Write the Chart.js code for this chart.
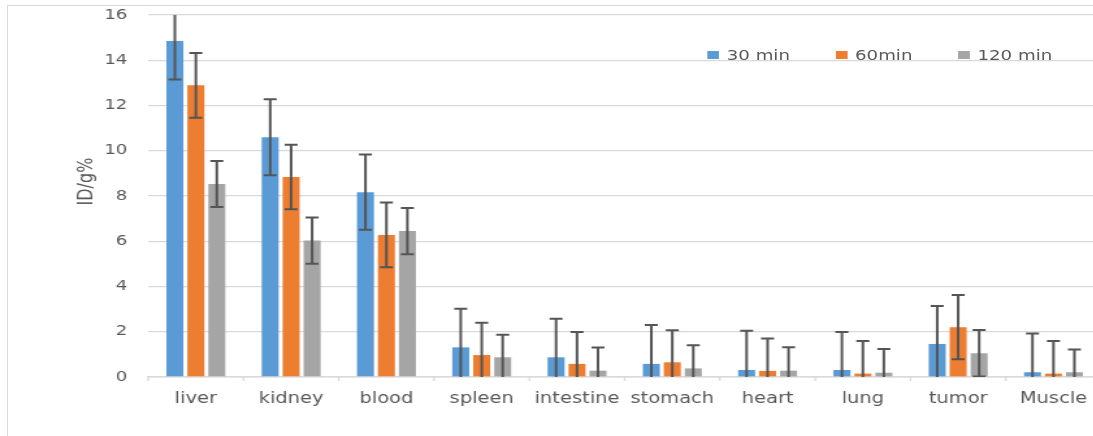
<!DOCTYPE html>
<html>
<head>
<meta charset="utf-8">
<script src="https://cdn.jsdelivr.net/npm/chart.js@4"></script>
<style>
  html, body { margin: 0; padding: 0; background: #fff; overflow: hidden; }
  #page { position: relative; width: 1093px; height: 436px; overflow: hidden; }
  /* only the top and left edges of the outer frame show in the source */
  #frame { position: absolute; left: 7px; top: 5px; width: 1086px; height: 431px;
           border-top: 1px solid #d9d9d9; border-left: 1px solid #d9d9d9; }
  /* the source picture is stretched sideways, so the chart is drawn narrow and scaled */
  #wrap { position: absolute; left: 0; top: 0; width: 855px; height: 436px; transform: scaleX(1.3); transform-origin: 0 0; }
  #chart { display: block; }
  #legend { position: absolute; left: 544px; top: 47px; display: flex; gap: 35px;
            font: 14px "DejaVu Sans", sans-serif; color: #595959; white-space: nowrap; }
  #legend .item { display: flex; align-items: center; }
  #legend .box { width: 9px; height: 8px; margin-right: 6px; }
</style>
</head>
<body>
<div id="page">
  <div id="frame"></div>
  <div id="wrap">
    <canvas id="chart" width="855" height="436"></canvas>
    <div id="legend"></div>
  </div>
</div>
<script>
const categories = ['liver', 'kidney', 'blood', 'spleen', 'intestine', 'stomach', 'heart', 'lung', 'tumor', 'Muscle'];
const seriesNames = ['30 min', '60min', '120 min'];

const min30 = [14.85, 10.6, 8.17, 1.31, 0.87, 0.58, 0.31, 0.31, 1.46, 0.21];
const min30Err = [1.7, 1.68, 1.66, 1.71, 1.71, 1.72, 1.73, 1.68, 1.68, 1.71];

const min60 = [12.89, 8.84, 6.28, 0.97, 0.58, 0.65, 0.27, 0.15, 2.2, 0.15];
const min60Err = [1.43, 1.43, 1.43, 1.43, 1.41, 1.42, 1.43, 1.44, 1.42, 1.44];

const min120 = [8.53, 6.03, 6.45, 0.87, 0.28, 0.38, 0.28, 0.19, 1.05, 0.21];
const min120Err = [1.02, 1.02, 1.02, 1.0, 1.02, 1.02, 1.03, 1.05, 1.03, 1.0];

const yTicks = [0, 2, 4, 6, 8, 10, 12, 14, 16];
const yTitle = 'ID/g%';

const colors = ['#5b9bd5', '#ed7d31', '#a5a5a5'];
const textColor = '#595959';
const gridColor = '#d9d9d9';

// error bars, drawn through the y scale
const errorBars = {
  id: 'errorBars',
  afterDatasetsDraw(chart) {
    const { ctx, chartArea, scales: { y } } = chart;
    ctx.save();
    ctx.beginPath();
    ctx.rect(chartArea.left, chartArea.top, chartArea.right - chartArea.left, chartArea.bottom - chartArea.top);
    ctx.clip();
    ctx.strokeStyle = '#555555';
    ctx.lineWidth = 2;
    chart.data.datasets.forEach((ds, i) => {
      const meta = chart.getDatasetMeta(i);
      meta.data.forEach((bar, j) => {
        const v = ds.data[j], e = ds.errors[j];
        const top = y.getPixelForValue(v + e);
        const bot = y.getPixelForValue(v - e);
        const x = bar.x, cap = 5;
        ctx.beginPath();
        ctx.moveTo(x, top); ctx.lineTo(x, bot);
        ctx.moveTo(x - cap, top); ctx.lineTo(x + cap, top);
        ctx.moveTo(x - cap, bot); ctx.lineTo(x + cap, bot);
        ctx.stroke();
      });
    });
    ctx.restore();
  }
};

// short tick marks under the x axis, at the category boundaries
const xTickMarks = {
  id: 'xTickMarks',
  afterDraw(chart) {
    const { ctx, chartArea, scales: { x } } = chart;
    ctx.save();
    ctx.strokeStyle = gridColor;
    ctx.lineWidth = 1.3;
    ctx.beginPath();
    for (let i = 0; i <= categories.length; i++) {
      const px = i < categories.length
        ? x.getPixelForValue(i) - x.width / categories.length / 2
        : chartArea.right;
      ctx.moveTo(px, chartArea.bottom);
      ctx.lineTo(px, chartArea.bottom + 4);
    }
    ctx.stroke();
    ctx.restore();
  }
};

// rotated y title, a bit above the middle like the source
const yTitlePlugin = {
  id: 'yTitlePlugin',
  afterDraw(chart) {
    const { ctx, chartArea } = chart;
    ctx.save();
    ctx.translate(67, chartArea.top + (chartArea.bottom - chartArea.top) * 0.46);
    ctx.rotate(-Math.PI / 2);
    ctx.font = '16px "DejaVu Sans"';
    ctx.fillStyle = textColor;
    ctx.textAlign = 'center';
    ctx.textBaseline = 'middle';
    ctx.fillText(yTitle, 0, 0);
    ctx.restore();
  }
};

const datasets = [
  { label: seriesNames[0], data: min30, errors: min30Err, backgroundColor: colors[0] },
  { label: seriesNames[1], data: min60, errors: min60Err, backgroundColor: colors[1] },
  { label: seriesNames[2], data: min120, errors: min120Err, backgroundColor: colors[2] }
].map(d => Object.assign(d, { categoryPercentage: 0.66, barPercentage: 0.81 }));

const chart = new Chart(document.getElementById('chart'), {
  type: 'bar',
  data: { labels: categories, datasets: datasets },
  options: {
    responsive: false,
    animation: false,
    devicePixelRatio: 1,
    layout: { padding: { top: 15, right: 8, left: 0, bottom: 0 } },
    plugins: { legend: { display: false }, tooltip: { enabled: false } },
    scales: {
      x: {
        grid: { display: false },
        border: { display: true, color: gridColor, width: 1.5 },
        ticks: { color: textColor, font: { family: 'DejaVu Sans', size: 15 }, padding: 5, maxRotation: 0 },
        afterFit(scale) { scale.height = 59; scale.paddingLeft = 0; scale.paddingRight = 0; }
      },
      y: {
        min: 0,
        max: 16,
        afterBuildTicks(scale) { scale.ticks = yTicks.map(v => ({ value: v })); },
        grid: { color: gridColor, lineWidth: 1.3, drawTicks: false },
        border: { display: false },
        ticks: { color: textColor, font: { family: 'DejaVu Sans', size: 14 }, padding: 16 },
        afterFit(scale) { scale.width = 114; scale.paddingTop = 0; scale.paddingBottom = 0; }
      }
    }
  },
  plugins: [errorBars, xTickMarks, yTitlePlugin]
});

// legend
const legend = document.getElementById('legend');
chart.data.datasets.forEach(ds => {
  const item = document.createElement('div');
  item.className = 'item';
  const box = document.createElement('span');
  box.className = 'box';
  box.style.background = ds.backgroundColor;
  const txt = document.createElement('span');
  txt.textContent = ds.label;
  item.appendChild(box);
  item.appendChild(txt);
  legend.appendChild(item);
});
</script>
</body>
</html>
